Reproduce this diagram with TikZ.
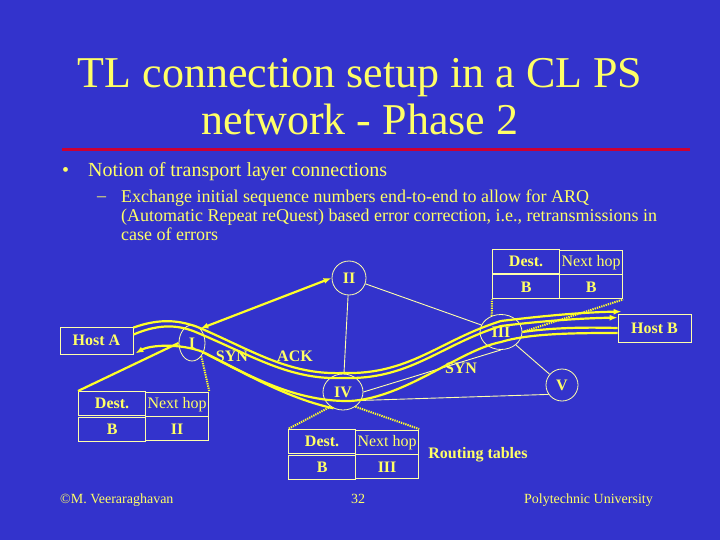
\documentclass[tikz,border=0pt]{standalone}
\usepackage{fontspec}
\setmainfont{Liberation Serif}
\usetikzlibrary{positioning,arrows.meta,calc,shapes.geometric,matrix}
\definecolor{slideblue}{RGB}{51,51,204}
\definecolor{slideyellow}{RGB}{255,255,102}
\definecolor{pipeyellow}{RGB}{255,255,40}
\definecolor{thinline}{RGB}{255,255,170}
\definecolor{rulered}{RGB}{204,0,51}

\begin{document}
\begin{tikzpicture}[
  x=1pt,y=-1pt,
  >={Latex[length=8pt,width=6pt]},
  every node/.style={text=slideyellow,inner sep=0pt},
  lbl/.style={font=\fontsize{16}{18}\selectfont\bfseries},
  router/.style={ellipse,draw=thinline,line width=0.8pt,lbl},
  host/.style={draw=thinline,line width=0.8pt,minimum width=73pt,
               minimum height=27pt,lbl},
  rtable/.style={matrix of nodes,anchor=north west,
    nodes={draw=thinline,line width=0.8pt,minimum height=24pt,
           font=\fontsize{16}{18}\selectfont},
    column 1/.style={nodes={minimum width=67pt}},
    column 2/.style={nodes={minimum width=63pt}},
    column sep=-0.8pt,row sep=-0.8pt},
  pipe/.style={draw=pipeyellow,line width=2.2pt},
  thinlink/.style={draw=thinline,line width=0.9pt},
  tablink/.style={draw=pipeyellow,line width=2pt,dash pattern=on 1.3pt off 1pt}
]
\fill[slideblue] (0,0) rectangle (720,540);
\useasboundingbox (0,0) rectangle (720,540);

\node[anchor=north,align=center,font=\fontsize{44}{47}\selectfont] (title) at (360,58)
  {TL connection setup in a CL PS\\network - Phase 2};
\draw[rulered,line width=3pt] (62,150) -- (690,150);

\node[anchor=base west,font=\fontsize{20}{24}\selectfont] (dot) at (62,177) {\textbullet};
\node[anchor=base west,font=\fontsize{20}{24}\selectfont] (notion) at (88,177)
  {Notion of transport layer connections};
\node[anchor=base west,font=\fontsize{18}{19}\selectfont] (dash) at (97,202) {--};
\node[anchor=north west,align=left,font=\fontsize{18}{19}\selectfont] (arq) at (121,189.7)
  {Exchange initial sequence numbers end-to-end to allow for ARQ\\
   (Automatic Repeat reQuest) based error correction, i.e., retransmissions in\\
   case of errors};

\node[host] (hostA) at (96.5,340.5) {Host A};
\node[host,minimum height=28pt] (hostB) at (654.5,328) {Host B};

\node[router,minimum width=26pt,minimum height=36pt] (I) at (192,343) {I};
\node[router,minimum width=34pt,minimum height=34pt] (II) at (349,278) {II};
\node[router,minimum width=42pt,minimum height=35pt] (III) at (501,332) {III};
\node[router,minimum width=40pt,minimum height=36pt] (IV) at (343,392) {IV};
\node[router,minimum width=32pt,minimum height=32pt] (V) at (562,385) {V};

\matrix[rtable] (tabI) at (78,391) {\textbf{Dest.} & Next hop\\ \textbf{B} & \textbf{II}\\};
\matrix[rtable] (tabIII) at (492,249) {\textbf{Dest.} & Next hop\\ \textbf{B} & \textbf{B}\\};
\matrix[rtable] (tabIV) at (288,429) {\textbf{Dest.} & Next hop\\ \textbf{B} & \textbf{III}\\};
\node[lbl,right=9pt of tabIV] (routing) {Routing tables};

\node[lbl] (syn1) at (232,356) {SYN};
\node[lbl] (ack) at (295,356) {ACK};
\node[lbl] (syn2) at (461,368) {SYN};

\draw[thinlink] (II) -- (III);
\draw[thinlink] (II) -- (IV);
\draw[thinlink] (III) -- (V);
\draw[thinlink] (IV.east) -- (III.south);
\draw[thinlink] (IV.-25) -- (V.-145);

\draw[pipe,<->] (I.60) -- (II.west);
\draw[pipe,->] ($(hostA.north east)+(0,1)$) .. controls (160,318) and (180,320) .. (200,328)
  .. controls (255,352) and (290,375) .. (343,373)
  .. controls (410,375) and (440,340) .. (501,321)
  .. controls (550,315) and (590,312) .. ($(hostB.north west)+(4,-2)$);
\draw[pipe,->] ($(hostA.north east)+(0,8)$) .. controls (160,323) and (180,325) .. (198,333)
  .. controls (255,357) and (290,380) .. (343,378)
  .. controls (410,380) and (440,345) .. (501,326)
  .. controls (550,320) and (590,318) .. ($(hostB.north west)+(0,4)$);
\draw[pipe] (hostB.west) .. controls (580,327) and (550,328) .. (III.east);
\draw[pipe,->] ($(hostB.west)+(0,5)$) .. controls (580,333) and (530,333) .. (501,342)
  .. controls (460,350) and (405,398) .. (350,401)
  .. controls (290,402) and (240,370) .. (203,352)
  .. controls (180,343) and (150,345) .. ($(hostA.south east)+(2,-1)$);
\draw[pipe] (I.-40) .. controls (250,376) and (290,399) .. (IV.-120);

\draw[pipe] (I.west) -- (tabI.north west);
\draw[tablink] (I.-55) -- (tabI.north east);
\draw[tablink] (III.120) -- (tabIII.south west);
\draw[tablink] (III.east) -- (tabIII.south east);
\draw[tablink] (IV.-130) -- (tabIV.north west);
\draw[tablink] (IV.-50) -- (tabIV.north east);

\node[anchor=base west,font=\fontsize{14}{16}\selectfont] (author) at (60,503) {©M. Veeraraghavan};
\node[anchor=base,font=\fontsize{14}{16}\selectfont] (page) at (358,503) {32};
\node[anchor=base east,font=\fontsize{14}{16}\selectfont] (univ) at (653,503) {Polytechnic University};
\end{tikzpicture}
\end{document}
